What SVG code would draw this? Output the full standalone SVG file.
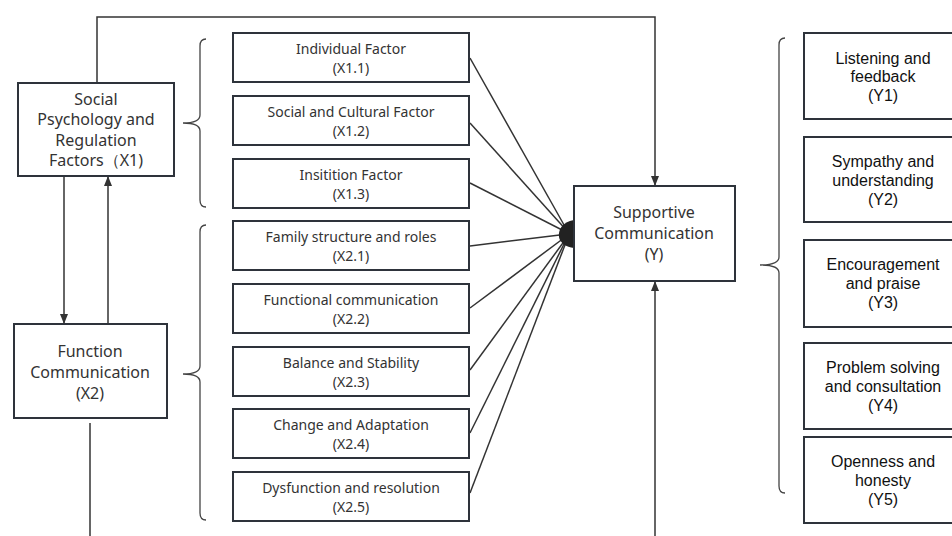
<svg xmlns="http://www.w3.org/2000/svg" width="952" height="536" viewBox="0 0 952 536">
<defs>
<style>
.box{fill:#fff;stroke:#2e333b;stroke-width:2}
.ln{fill:none;stroke:#333;stroke-width:1.5}
.br{fill:none;stroke:#444;stroke-width:1.3}
.t{font-family:"Noto Sans","Open Sans",sans-serif;fill:#333;text-anchor:middle}
.big{font-size:16px}
.sm{font-size:14px}
.ar{font-family:"Liberation Sans",Arial,sans-serif;font-size:16px;fill:#111;text-anchor:middle}
</style>
<marker id="ah" markerWidth="10" markerHeight="10" refX="9" refY="5" orient="auto" markerUnits="userSpaceOnUse">
<path d="M0,1 L10,5 L0,9 Z" fill="#333"/>
</marker>
</defs>
<rect width="952" height="536" fill="#fff"/>

<g id="connectors">
<polyline class="ln" points="97,83 97,17 655,17 655,185" marker-end="url(#ah)"/>
<line class="ln" x1="64" y1="176" x2="64" y2="323" marker-end="url(#ah)"/>
<line class="ln" x1="108" y1="324" x2="108" y2="177" marker-end="url(#ah)"/>
<line class="ln" x1="90" y1="423" x2="90" y2="536"/>
<line class="ln" x1="655" y1="536" x2="655" y2="282" marker-end="url(#ah)"/>
<line class="ln" x1="470" y1="58" x2="568" y2="232"/>
<line class="ln" x1="470" y1="123" x2="568" y2="232"/>
<line class="ln" x1="470" y1="183" x2="568" y2="233"/>
<line class="ln" x1="470" y1="246" x2="568" y2="234"/>
<line class="ln" x1="470" y1="308" x2="568" y2="235"/>
<line class="ln" x1="470" y1="370" x2="568" y2="236"/>
<line class="ln" x1="470" y1="433" x2="568" y2="236"/>
<line class="ln" x1="470" y1="493" x2="568" y2="237"/>
<path d="M574,220 C562,222 558,230 559,237 C560,243 566,247 574,248 Z" fill="#222"/>
<path class="br" d="M206,39 Q200,39 200,46 L200,115 Q200,123 183,123 Q200,123 200,131 L200,200 Q200,207 206,207"/>
<path class="br" d="M206,225 Q200,225 200,232 L200,366 Q200,374 183,374 Q200,374 200,382 L200,513 Q200,520 206,520"/>
<path class="br" d="M785,38 Q779,38 779,45 L779,257 Q779,265 760,265 Q779,265 779,273 L779,486 Q779,493 785,493"/>
</g>

<g id="X1">
<rect class="box" x="18" y="83" width="156" height="93"/>
<text class="t big" x="96" y="105">Social</text>
<text class="t big" x="96" y="125">Psychology and</text>
<text class="t big" x="96" y="146">Regulation</text>
<text class="t big" x="96" y="166">Factors（X1)</text>
</g>

<g id="X2">
<rect class="box" x="14" y="324" width="153" height="94"/>
<text class="t big" x="90" y="357">Function</text>
<text class="t big" x="90" y="378">Communication</text>
<text class="t big" x="90" y="399">(X2)</text>
</g>

<g id="X1_1"><rect class="box" x="233" y="33" width="236" height="49"/>
<text class="t sm" x="351" y="54">Individual Factor</text><text class="t sm" x="351" y="73">(X1.1)</text></g>
<g id="X1_2"><rect class="box" x="233" y="96" width="236" height="49"/>
<text class="t sm" x="351" y="117">Social and Cultural Factor</text><text class="t sm" x="351" y="136">(X1.2)</text></g>
<g id="X1_3"><rect class="box" x="233" y="159" width="236" height="49"/>
<text class="t sm" x="351" y="180">Insitition Factor</text><text class="t sm" x="351" y="199">(X1.3)</text></g>
<g id="X2_1"><rect class="box" x="233" y="221" width="236" height="49"/>
<text class="t sm" x="351" y="242">Family structure and roles</text><text class="t sm" x="351" y="261">(X2.1)</text></g>
<g id="X2_2"><rect class="box" x="233" y="284" width="236" height="49"/>
<text class="t sm" x="351" y="305">Functional communication</text><text class="t sm" x="351" y="324">(X2.2)</text></g>
<g id="X2_3"><rect class="box" x="233" y="347" width="236" height="49"/>
<text class="t sm" x="351" y="368">Balance and Stability</text><text class="t sm" x="351" y="387">(X2.3)</text></g>
<g id="X2_4"><rect class="box" x="233" y="409" width="236" height="49"/>
<text class="t sm" x="351" y="430">Change and Adaptation</text><text class="t sm" x="351" y="449">(X2.4)</text></g>
<g id="X2_5"><rect class="box" x="233" y="472" width="236" height="49"/>
<text class="t sm" x="351" y="493">Dysfunction and resolution</text><text class="t sm" x="351" y="512">(X2.5)</text></g>

<g id="Y">
<rect class="box" x="574" y="186" width="161" height="95"/>
<text class="t big" x="654" y="218">Supportive</text>
<text class="t big" x="654" y="239">Communication</text>
<text class="t big" x="654" y="260">(Y)</text>
</g>

<g id="Y1"><rect class="box" x="804" y="33" width="160" height="86"/>
<text class="ar" x="883" y="64">Listening and</text><text class="ar" x="883" y="82">feedback</text><text class="ar" x="883" y="101">(Y1)</text></g>
<g id="Y2"><rect class="box" x="804" y="137" width="160" height="85"/>
<text class="ar" x="883" y="167">Sympathy and</text><text class="ar" x="883" y="186">understanding</text><text class="ar" x="883" y="205">(Y2)</text></g>
<g id="Y3"><rect class="box" x="804" y="240" width="160" height="87"/>
<text class="ar" x="883" y="270">Encouragement</text><text class="ar" x="883" y="289">and praise</text><text class="ar" x="883" y="308">(Y3)</text></g>
<g id="Y4"><rect class="box" x="804" y="343" width="160" height="86"/>
<text class="ar" x="883" y="373">Problem solving</text><text class="ar" x="883" y="392">and consultation</text><text class="ar" x="883" y="411">(Y4)</text></g>
<g id="Y5"><rect class="box" x="804" y="437" width="160" height="86"/>
<text class="ar" x="883" y="467">Openness and</text><text class="ar" x="883" y="486">honesty</text><text class="ar" x="883" y="505">(Y5)</text></g>
</svg>
